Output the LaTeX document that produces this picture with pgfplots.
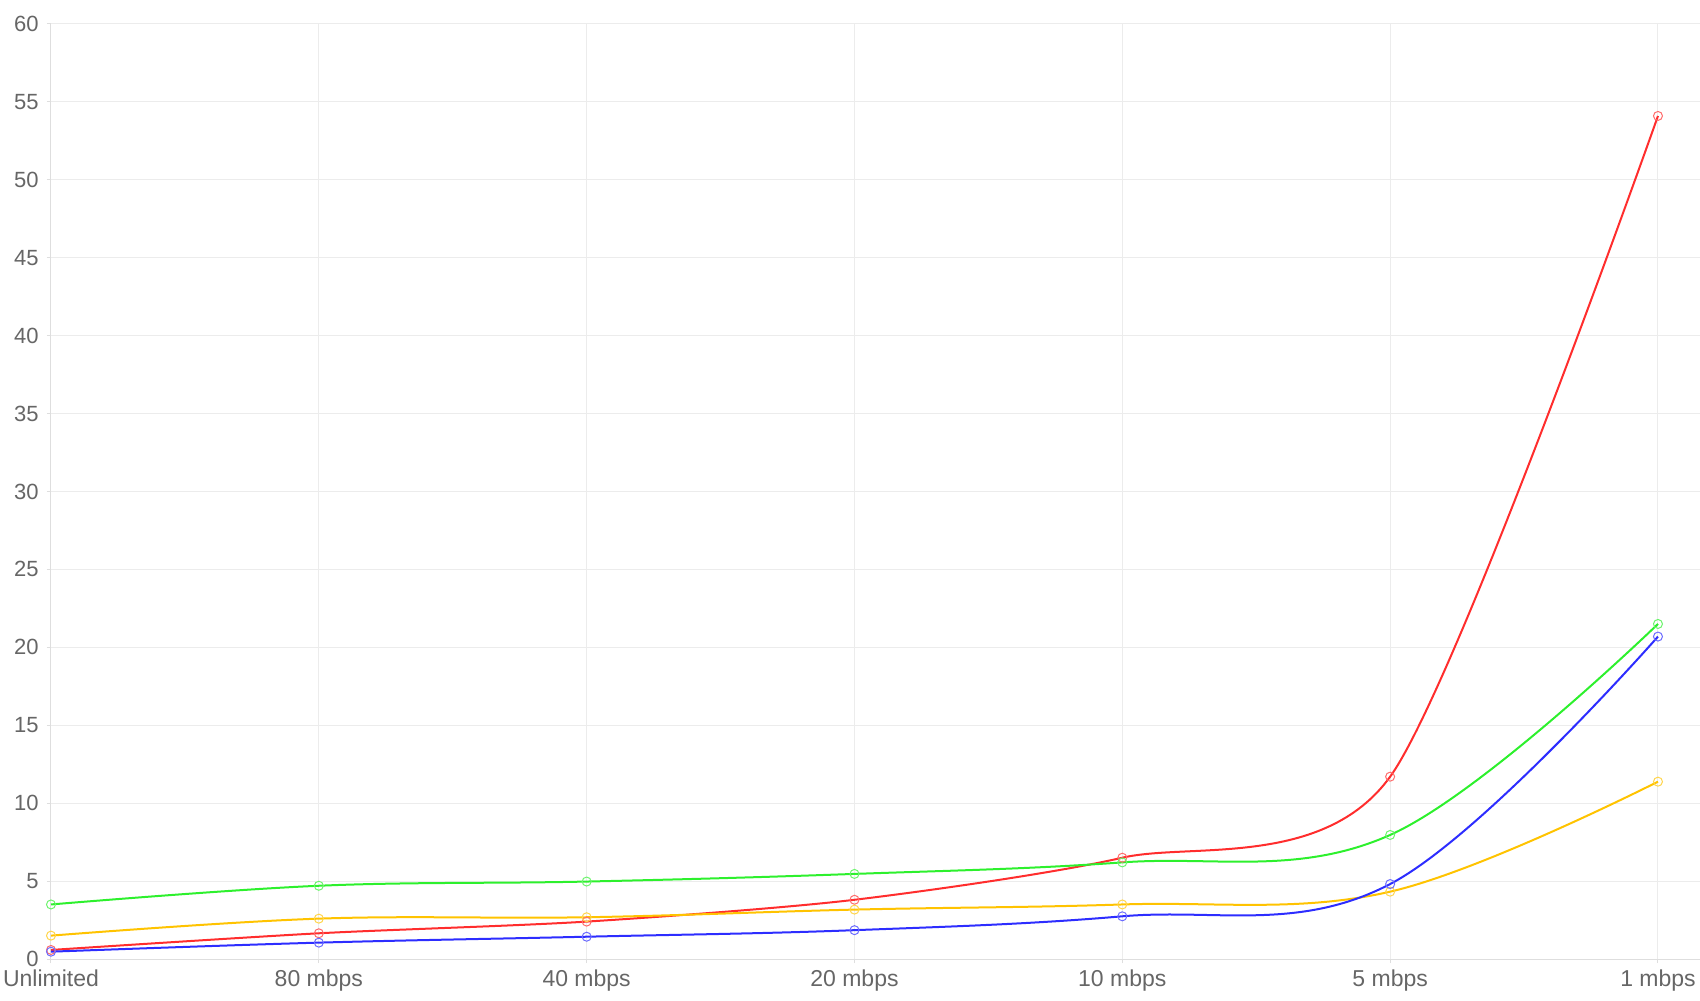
\documentclass[border=0pt]{standalone}
\usepackage{fontspec}
\setmainfont{Liberation Sans}
\usepackage{pgfplots}
\pgfplotsset{compat=1.18}
\definecolor{cred}{RGB}{255,45,45}
\definecolor{cgreen}{RGB}{45,240,45}
\definecolor{cyellow}{RGB}{255,195,0}
\definecolor{cblue}{RGB}{45,45,255}
\definecolor{txt}{RGB}{102,102,102}
\definecolor{gridc}{RGB}{236,236,236}
\definecolor{axc}{RGB}{222,222,222}
\begin{document}
\begin{tikzpicture}
\path[use as bounding box] (-25.5pt,-20.5pt) rectangle (824.5pt,479.5pt);
\begin{axis}[
  at={(0,0)}, anchor=south west,
  scale only axis, width=824.5pt, height=467.5pt,
  xmin=0, xmax=6.157, ymin=0, ymax=60,
  xtick={0,1,2,3,4,5,6},
  xticklabels={Unlimited,80 mbps,40 mbps,20 mbps,10 mbps,5 mbps,1 mbps},
  ytick={0,5,...,60},
  grid=major,
  major grid style={draw=gridc, line width=0.5pt},
  axis x line=bottom, axis y line=left,
  axis line style={draw=axc, line width=0.5pt, -},
  tick align=outside, major tick length=2pt,
  tick style={draw=axc, line width=0.5pt},
  xticklabel style={font=\fontsize{11.5}{13}\selectfont, text=txt, anchor=north, inner sep=0pt, yshift=-3pt},
  yticklabel style={font=\fontsize{11}{13}\selectfont, text=txt, anchor=east, inner sep=0pt, xshift=-4pt},
  /pgf/number format/assume math mode=true,
  clip=false,
  every axis plot/.append style={line width=1pt, smooth, tension=0.62,
    mark=o, mark size=2.25pt},
]
\addplot[color=cred, tension=0.45, mark options={line width=0.5pt, draw=cred!70}] coordinates {
 (0,0.58) (1,1.65) (2,2.4) (3,3.8) (4,6.5) (5,11.7) (6,54.1)};
\addplot[color=cgreen, mark options={line width=0.5pt, draw=cgreen!70}] coordinates {
 (0,3.5) (1,4.7) (2,4.97) (3,5.46) (4,6.2) (5,7.96) (6,21.5)};
\addplot[color=cyellow, mark options={line width=0.5pt, draw=cyellow!70}] coordinates {
 (0,1.5) (1,2.59) (2,2.68) (3,3.17) (4,3.5) (5,4.32) (6,11.38)};
\addplot[color=cblue, mark options={line width=0.5pt, draw=cblue!70}] coordinates {
 (0,0.47) (1,1.05) (2,1.43) (3,1.85) (4,2.74) (5,4.81) (6,20.69)};
\end{axis}
\end{tikzpicture}
\end{document}
